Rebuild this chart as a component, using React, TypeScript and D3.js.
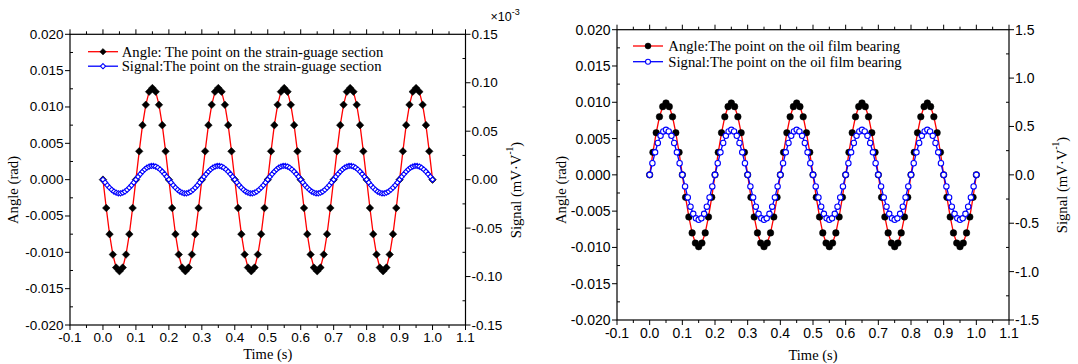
import React, { useEffect } from 'react';
import * as d3 from 'd3';

// ---------- data ----------
const timeTicks = [-0.1, 0, 0.1, 0.2, 0.3, 0.4, 0.5, 0.6, 0.7, 0.8, 0.9, 1.0, 1.1];
const timeTickLabels = ['-0.1', '0.0', '0.1', '0.2', '0.3', '0.4', '0.5', '0.6', '0.7', '0.8', '0.9', '1.0', '1.1'];
const angleTicks = [0.02, 0.015, 0.01, 0.005, 0, -0.005, -0.01, -0.015, -0.02];
const angleTickLabels = ['0.020', '0.015', '0.010', '0.005', '0.000', '-0.005', '-0.010', '-0.015', '-0.020'];
const leftSignalTicks = [0.15, 0.1, 0.05, 0, -0.05, -0.1, -0.15];
const leftSignalTickLabels = ['0.15', '0.10', '0.05', '0.00', '-0.05', '-0.10', '-0.15'];
const rightSignalTicks = [1.5, 1.0, 0.5, 0, -0.5, -1.0, -1.5];
const rightSignalTickLabels = ['1.5', '1.0', '0.5', '0.0', '-0.5', '-1.0', '-1.5'];

const angleStep = 0.01;
const leftSignalStep = 1 / 150;
const rightSignalStep = 1 / 120;

// strain-gauge section angle (rad), sampled every 0.01 s
const leftAngle = [
  0, -0.0039, -0.0075, -0.0103, -0.0121, -0.0126, -0.0121, -0.0103, -0.0075, -0.0039, 0, 0.0039, 0.0075, 0.0103, 0.0121, 0.0126, 0.0121, 0.0103, 0.0075, 0.0039,
  0, -0.0039, -0.0075, -0.0103, -0.0121, -0.0126, -0.0121, -0.0103, -0.0075, -0.0039, 0, 0.0039, 0.0075, 0.0103, 0.0121, 0.0126, 0.0121, 0.0103, 0.0075, 0.0039,
  0, -0.0039, -0.0075, -0.0103, -0.0121, -0.0126, -0.0121, -0.0103, -0.0075, -0.0039, 0, 0.0039, 0.0075, 0.0103, 0.0121, 0.0126, 0.0121, 0.0103, 0.0075, 0.0039,
  0, -0.0039, -0.0075, -0.0103, -0.0121, -0.0126, -0.0121, -0.0103, -0.0075, -0.0039, 0, 0.0039, 0.0075, 0.0103, 0.0121, 0.0126, 0.0121, 0.0103, 0.0075, 0.0039,
  0, -0.0039, -0.0075, -0.0103, -0.0121, -0.0126, -0.0121, -0.0103, -0.0075, -0.0039, 0, 0.0039, 0.0075, 0.0103, 0.0121, 0.0126, 0.0121, 0.0103, 0.0075, 0.0039,
  0,
];

// strain-gauge section signal (x10^-3 mV/V)
const leftSignal = [
  0, -0.003, -0.0058, -0.0083, -0.0105, -0.0123, -0.0135, -0.0141, -0.0141, -0.0135, -0.0123, -0.0105, -0.0083, -0.0058, -0.003,
  0, 0.003, 0.0058, 0.0083, 0.0105, 0.0123, 0.0135, 0.0141, 0.0141, 0.0135, 0.0123, 0.0105, 0.0083, 0.0058, 0.003,
  0, -0.003, -0.0058, -0.0083, -0.0105, -0.0123, -0.0135, -0.0141, -0.0141, -0.0135, -0.0123, -0.0105, -0.0083, -0.0058, -0.003,
  0, 0.003, 0.0058, 0.0083, 0.0105, 0.0123, 0.0135, 0.0141, 0.0141, 0.0135, 0.0123, 0.0105, 0.0083, 0.0058, 0.003,
  0, -0.003, -0.0058, -0.0083, -0.0105, -0.0123, -0.0135, -0.0141, -0.0141, -0.0135, -0.0123, -0.0105, -0.0083, -0.0058, -0.003,
  0, 0.003, 0.0058, 0.0083, 0.0105, 0.0123, 0.0135, 0.0141, 0.0141, 0.0135, 0.0123, 0.0105, 0.0083, 0.0058, 0.003,
  0, -0.003, -0.0058, -0.0083, -0.0105, -0.0123, -0.0135, -0.0141, -0.0141, -0.0135, -0.0123, -0.0105, -0.0083, -0.0058, -0.003,
  0, 0.003, 0.0058, 0.0083, 0.0105, 0.0123, 0.0135, 0.0141, 0.0141, 0.0135, 0.0123, 0.0105, 0.0083, 0.0058, 0.003,
  0, -0.003, -0.0058, -0.0083, -0.0105, -0.0123, -0.0135, -0.0141, -0.0141, -0.0135, -0.0123, -0.0105, -0.0083, -0.0058, -0.003,
  0, 0.003, 0.0058, 0.0083, 0.0105, 0.0123, 0.0135, 0.0141, 0.0141, 0.0135, 0.0123, 0.0105, 0.0083, 0.0058, 0.003,
  0,
];

// oil film bearing angle (rad)
const rightAngle = [
  0, 0.0031, 0.0058, 0.008, 0.0094, 0.0099, 0.0094, 0.008, 0.0058, 0.0031, 0, -0.0031, -0.0058, -0.008, -0.0094, -0.0099, -0.0094, -0.008, -0.0058, -0.0031,
  0, 0.0031, 0.0058, 0.008, 0.0094, 0.0099, 0.0094, 0.008, 0.0058, 0.0031, 0, -0.0031, -0.0058, -0.008, -0.0094, -0.0099, -0.0094, -0.008, -0.0058, -0.0031,
  0, 0.0031, 0.0058, 0.008, 0.0094, 0.0099, 0.0094, 0.008, 0.0058, 0.0031, 0, -0.0031, -0.0058, -0.008, -0.0094, -0.0099, -0.0094, -0.008, -0.0058, -0.0031,
  0, 0.0031, 0.0058, 0.008, 0.0094, 0.0099, 0.0094, 0.008, 0.0058, 0.0031, 0, -0.0031, -0.0058, -0.008, -0.0094, -0.0099, -0.0094, -0.008, -0.0058, -0.0031,
  0, 0.0031, 0.0058, 0.008, 0.0094, 0.0099, 0.0094, 0.008, 0.0058, 0.0031, 0, -0.0031, -0.0058, -0.008, -0.0094, -0.0099, -0.0094, -0.008, -0.0058, -0.0031,
  0,
];

// oil film bearing signal (mV/V)
const rightSignal = [
  0, 0.12, 0.233, 0.329, 0.403, 0.449, 0.465, 0.449, 0.403, 0.329, 0.233, 0.12, 0, -0.12, -0.233, -0.329, -0.403, -0.449, -0.465, -0.449, -0.403, -0.329, -0.233, -0.12,
  0, 0.12, 0.233, 0.329, 0.403, 0.449, 0.465, 0.449, 0.403, 0.329, 0.233, 0.12, 0, -0.12, -0.233, -0.329, -0.403, -0.449, -0.465, -0.449, -0.403, -0.329, -0.233, -0.12,
  0, 0.12, 0.233, 0.329, 0.403, 0.449, 0.465, 0.449, 0.403, 0.329, 0.233, 0.12, 0, -0.12, -0.233, -0.329, -0.403, -0.449, -0.465, -0.449, -0.403, -0.329, -0.233, -0.12,
  0, 0.12, 0.233, 0.329, 0.403, 0.449, 0.465, 0.449, 0.403, 0.329, 0.233, 0.12, 0, -0.12, -0.233, -0.329, -0.403, -0.449, -0.465, -0.449, -0.403, -0.329, -0.233, -0.12,
  0, 0.12, 0.233, 0.329, 0.403, 0.449, 0.465, 0.449, 0.403, 0.329, 0.233, 0.12, 0, -0.12, -0.233, -0.329, -0.403, -0.449, -0.465, -0.449, -0.403, -0.329, -0.233, -0.12,
  0,
];

// ---------- rendering ----------
const SANS = '"Liberation Sans", Arial, sans-serif';
const SERIF = '"Liberation Serif", "Times New Roman", serif';

type MarkerKind = 'diamond' | 'circle';

function Marker({ kind, x, y, r, fill, stroke, sw }: { kind: MarkerKind; x: number; y: number; r: number; fill: string; stroke: string; sw: number }) {
  if (kind === 'circle') return <circle cx={x} cy={y} r={r} fill={fill} stroke={stroke} strokeWidth={sw} />;
  return <path d={`M${x},${y - r}L${x + r},${y}L${x},${y + r}L${x - r},${y}Z`} fill={fill} stroke={stroke} strokeWidth={sw} />;
}

type PanelProps = {
  box: [number, number, number, number]; // left, right, top, bottom
  angle: number[];
  signal: number[];
  signalStep: number;
  signalDomain: [number, number];
  signalTicks: number[];
  signalTickLabels: string[];
  marker: MarkerKind;
  angleR: number;
  signalR: number;
  legendAngleR: number;
  legendSignalR: number;
  legendAngle: string;
  legendSignal: string;
  legendX: number;
  legendY: number;
  legendGap: number;
  legendTextX: number;
  leftTitleX: number;
  leftTitleY: number;
  rightTitleX: number;
  rightTitleY: number;
  timeTitleY: number;
  tickLabelDy: number;
  tickFont: number;
  multiplier?: boolean;
};

function Panel(p: PanelProps) {
  const [L, R, T, B] = p.box;
  const x = d3.scaleLinear().domain([-0.1, 1.1]).range([L, R]);
  const yA = d3.scaleLinear().domain([-0.02, 0.02]).range([B, T]);
  const yS = d3.scaleLinear().domain(p.signalDomain).range([B, T]);

  const angleLine = d3.line<number>().x((_, i) => x(i * angleStep)).y((d) => yA(d));
  const signalLine = d3.line<number>().x((_, i) => x(i * p.signalStep)).y((d) => yS(d));

  const xMinor = d3.range(-0.05, 1.1, 0.1);
  const aMinor = d3.range(-0.0175, 0.02, 0.005);
  const sStep = (p.signalDomain[1] - p.signalDomain[0]) / 12;
  const sMinor = d3.range(p.signalDomain[0] + sStep, p.signalDomain[1], sStep * 2);

  const major = 5;
  const minor = 3;
  const cx = (L + R) / 2;

  return (
    <g>
      {/* ticks */}
      {timeTicks.map((t, i) => (
        <g key={'xt' + i}>
          <line x1={x(t)} x2={x(t)} y1={B} y2={B + major} stroke="#000" />
          <line x1={x(t)} x2={x(t)} y1={T} y2={T - major} stroke="#000" />
          <text x={x(t)} y={B + p.tickLabelDy} textAnchor="middle" dominantBaseline="central" fontFamily={SANS} fontSize={p.tickFont}>
            {timeTickLabels[i]}
          </text>
        </g>
      ))}
      {xMinor.map((t, i) => (
        <g key={'xm' + i}>
          <line x1={x(t)} x2={x(t)} y1={B} y2={B + minor} stroke="#000" />
          <line x1={x(t)} x2={x(t)} y1={T} y2={T - minor} stroke="#000" />
        </g>
      ))}
      {angleTicks.map((v, i) => (
        <g key={'at' + i}>
          <line x1={L - major} x2={L} y1={yA(v)} y2={yA(v)} stroke="#000" />
          <text x={L - 6.5} y={yA(v)} textAnchor="end" dominantBaseline="central" fontFamily={SANS} fontSize={p.tickFont}>
            {angleTickLabels[i]}
          </text>
        </g>
      ))}
      {aMinor.map((v, i) => (
        <line key={'am' + i} x1={L} x2={L + minor} y1={yA(v)} y2={yA(v)} stroke="#000" />
      ))}
      {p.signalTicks.map((v, i) => (
        <g key={'st' + i}>
          <line x1={R} x2={R + major} y1={yS(v)} y2={yS(v)} stroke="#000" />
          <text x={R + 6} y={yS(v)} textAnchor="start" dominantBaseline="central" fontFamily={SANS} fontSize={p.tickFont}>
            {p.signalTickLabels[i]}
          </text>
        </g>
      ))}
      {sMinor.map((v, i) => (
        <line key={'sm' + i} x1={R - minor} x2={R} y1={yS(v)} y2={yS(v)} stroke="#000" />
      ))}

      {/* frame */}
      <rect x={L} y={T} width={R - L} height={B - T} fill="none" stroke="#000" strokeWidth={1.2} />

      {/* angle series */}
      <path d={angleLine(p.angle) || ''} fill="none" stroke="#ff0000" strokeWidth={1.3} />
      {p.angle.map((d, i) => (
        <Marker key={'a' + i} kind={p.marker} x={x(i * angleStep)} y={yA(d)} r={p.angleR} fill="#000" stroke="#000" sw={0.5} />
      ))}
      {/* signal series */}
      <path d={signalLine(p.signal) || ''} fill="none" stroke="#0000ff" strokeWidth={1.3} />
      {p.signal.map((d, i) => (
        <Marker key={'s' + i} kind={p.marker} x={x(i * p.signalStep)} y={yS(d)} r={p.signalR} fill="#fff" stroke="#0000ff" sw={1.1} />
      ))}

      {/* legend */}
      <g>
        <line x1={p.legendX} x2={p.legendX + 30} y1={p.legendY} y2={p.legendY} stroke="#ff0000" strokeWidth={1.3} />
        <Marker kind={p.marker} x={p.legendX + 15} y={p.legendY} r={p.legendAngleR} fill="#000" stroke="#000" sw={0.5} />
        <text x={p.legendTextX} y={p.legendY} dominantBaseline="central" fontFamily={SERIF} fontSize={14.7}>
          {p.legendAngle}
        </text>
        <line x1={p.legendX} x2={p.legendX + 30} y1={p.legendY + p.legendGap} y2={p.legendY + p.legendGap} stroke="#0000ff" strokeWidth={1.3} />
        <Marker kind={p.marker} x={p.legendX + 15} y={p.legendY + p.legendGap} r={p.legendSignalR} fill="#fff" stroke="#0000ff" sw={1.1} />
        <text x={p.legendTextX} y={p.legendY + p.legendGap} dominantBaseline="central" fontFamily={SERIF} fontSize={14.7}>
          {p.legendSignal}
        </text>
      </g>

      {/* titles */}
      <text x={cx} y={p.timeTitleY} textAnchor="middle" dominantBaseline="central" fontFamily={SERIF} fontSize={14.5}>
        Time (s)
      </text>
      <text
        transform={`translate(${p.leftTitleX},${p.leftTitleY}) rotate(-90)`}
        textAnchor="middle"
        dominantBaseline="central"
        fontFamily={SERIF}
        fontSize={14.7}
      >
        Angle (rad)
      </text>
      <text
        transform={`translate(${p.rightTitleX},${p.rightTitleY}) rotate(-90)`}
        textAnchor="middle"
        dominantBaseline="central"
        fontFamily={SERIF}
        fontSize={14.7}
      >
        Signal (mV·V
        <tspan fontSize={9.5} dy={-6}>-1</tspan>
        <tspan dy={6}>)</tspan>
      </text>
      {p.multiplier && (
        <text x={R + 25} y={21} fontFamily={SANS} fontSize={12.5}>
          ×10
          <tspan fontSize={9} dy={-6}>-3</tspan>
        </text>
      )}
    </g>
  );
}

export default function App() {
  useEffect(() => {
    document.body.style.margin = '0';
  }, []);
  return (
    <svg width={1078} height={364} style={{ position: 'absolute', left: 0, top: 0, background: '#fff' }}>
      <rect width={1078} height={364} fill="#fff" />
      <Panel
        box={[70, 465.5, 34.3, 325]}
        angle={leftAngle}
        signal={leftSignal}
        signalStep={leftSignalStep}
        signalDomain={[-0.15, 0.15]}
        signalTicks={leftSignalTicks}
        signalTickLabels={leftSignalTickLabels}
        marker="diamond"
        angleR={3.8}
        signalR={2.6}
        legendAngleR={3.2}
        legendSignalR={2.6}
        legendAngle="Angle: The point on the strain-guage section"
        legendSignal="Signal:The point on the strain-guage section"
        legendX={88}
        legendY={51.7}
        legendGap={14.5}
        legendTextX={121.7}
        leftTitleX={13}
        leftTitleY={190}
        rightTitleX={516}
        rightTitleY={190}
        timeTitleY={354}
        tickLabelDy={12}
        tickFont={13.5}
        multiplier
      />
      <Panel
        box={[617, 1009, 29.7, 320]}
        angle={rightAngle}
        signal={rightSignal}
        signalStep={rightSignalStep}
        signalDomain={[-1.5, 1.5]}
        signalTicks={rightSignalTicks}
        signalTickLabels={rightSignalTickLabels}
        marker="circle"
        angleR={3.3}
        signalR={2.7}
        legendAngleR={3}
        legendSignalR={2.5}
        legendAngle="Angle:The point on the oil film bearing"
        legendSignal="Signal:The point on the oil film bearing"
        legendX={633}
        legendY={46}
        legendGap={15.7}
        legendTextX={668.3}
        leftTitleX={561}
        leftTitleY={190}
        rightTitleX={1062}
        rightTitleY={185}
        timeTitleY={355}
        tickLabelDy={13}
        tickFont={14}
      />
    </svg>
  );
}
